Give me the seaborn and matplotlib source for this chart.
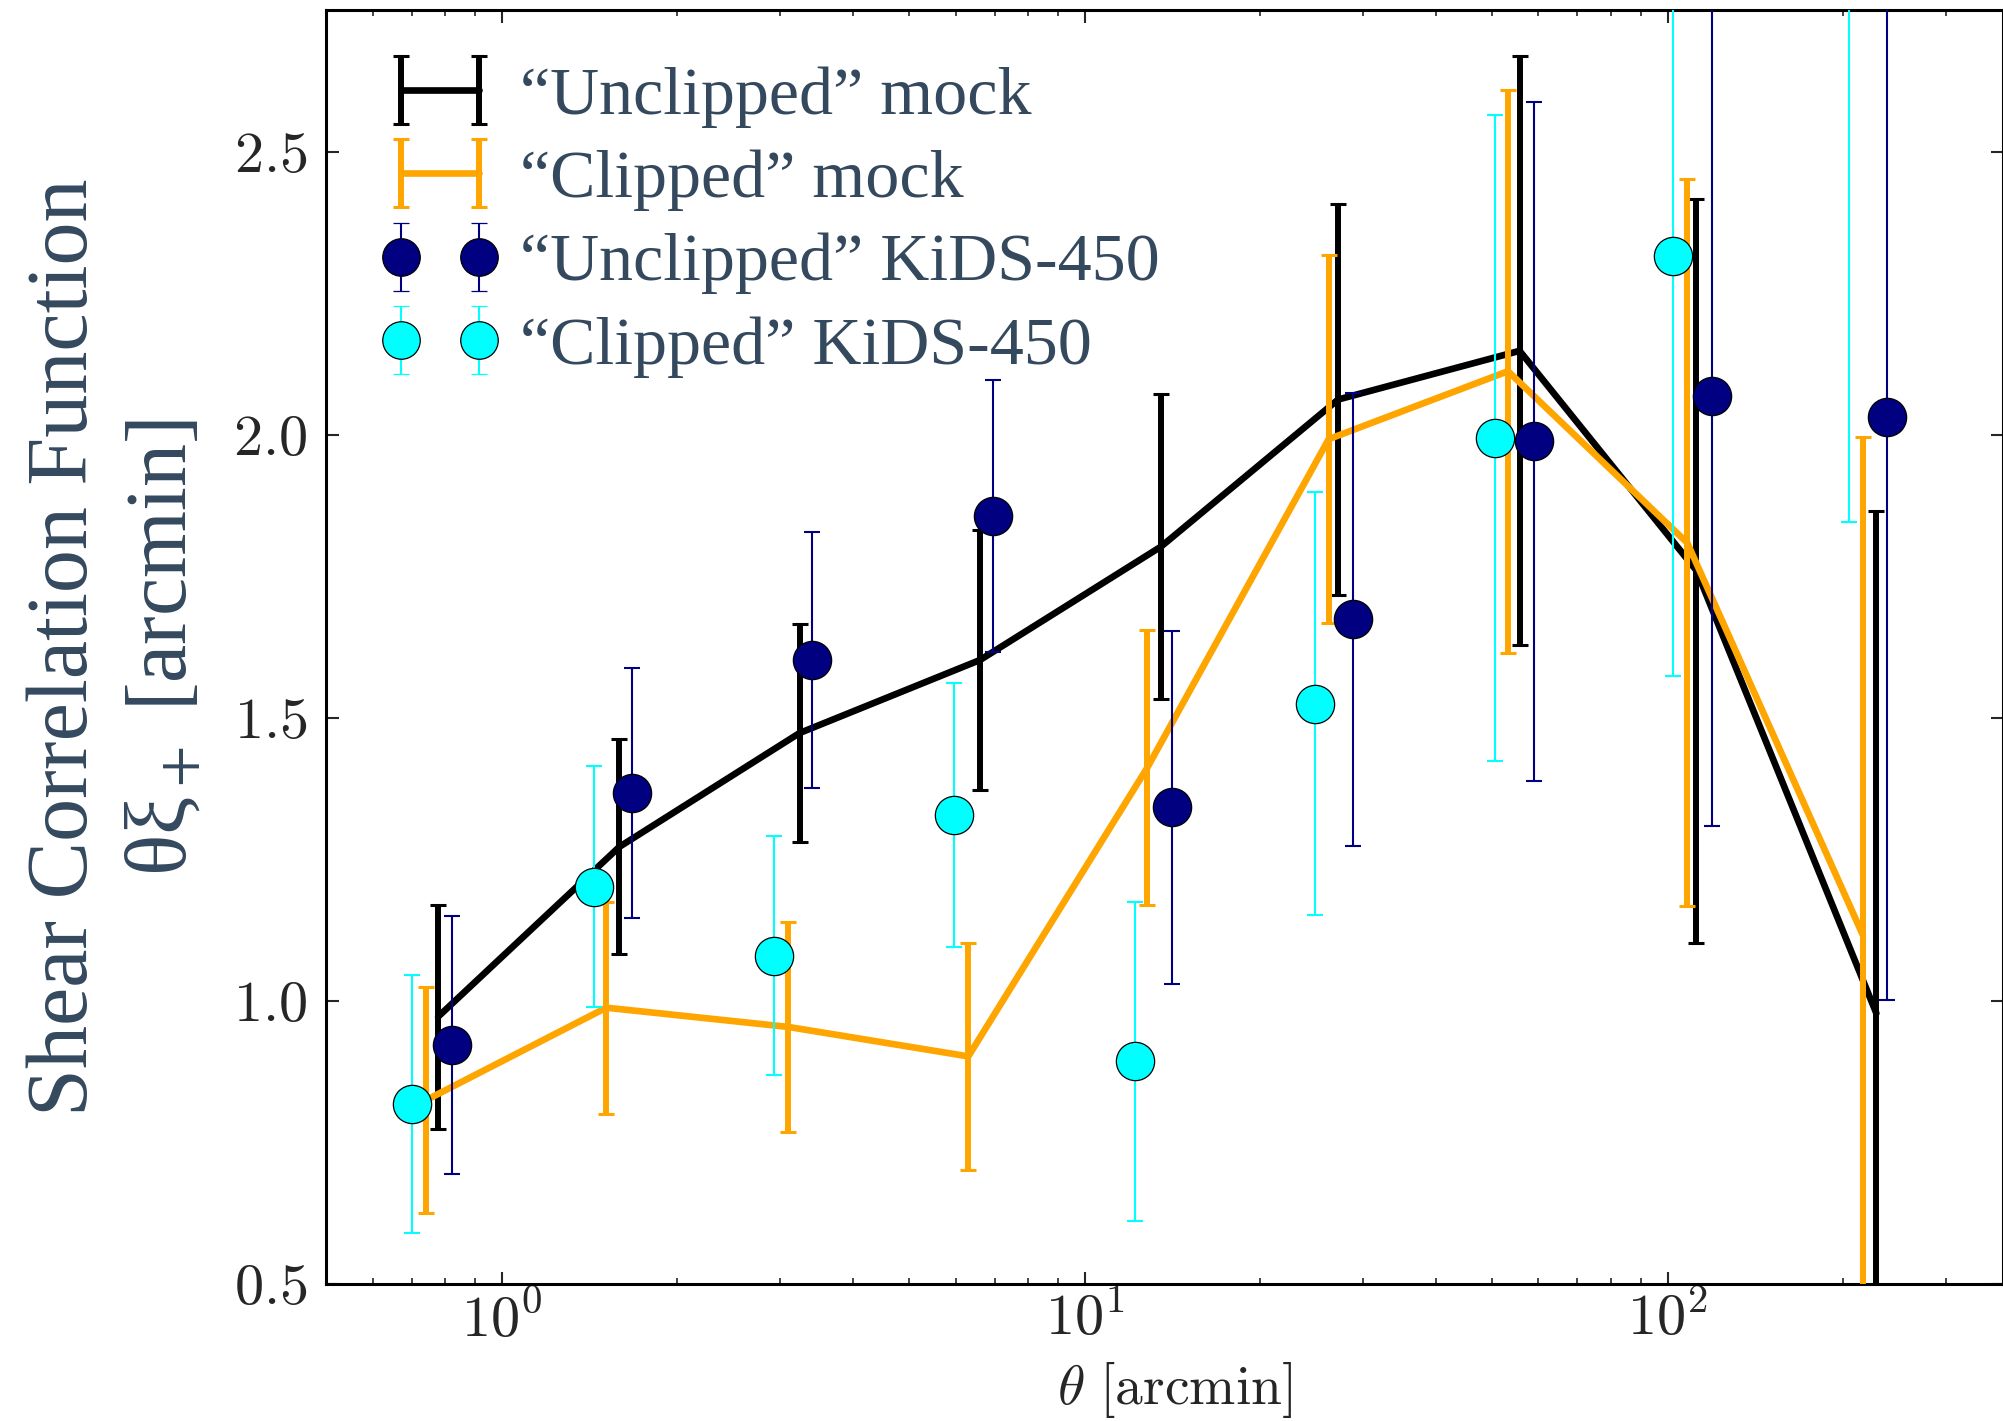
import numpy as np
import matplotlib
matplotlib.use('Agg')
import matplotlib.pyplot as plt
import seaborn as sns

# "Unclipped" mock (black line with error bars)
mock_u_theta = [0.777, 1.59, 3.24, 6.61, 13.5, 27.2, 55.7, 112.0, 228.0]
mock_u_xi = [0.972, 1.272, 1.473, 1.602, 1.802, 2.062, 2.148, 1.76, 0.978]
mock_u_err = [0.198, 0.19, 0.193, 0.23, 0.269, 0.346, 0.52, 0.657, 0.888]

# "Clipped" mock (orange line with error bars)
mock_c_theta = [0.742, 1.51, 3.10, 6.31, 12.8, 26.2, 53.2, 108.0, 216.0]
mock_c_xi = [0.825, 0.988, 0.954, 0.902, 1.412, 1.992, 2.112, 1.809, 1.117]
mock_c_err = [0.199, 0.187, 0.186, 0.20, 0.243, 0.325, 0.497, 0.642, 0.879]

# "Unclipped" KiDS-450 (navy points)
kids_u_theta = [0.821, 1.674, 3.41, 6.95, 14.1, 28.9, 58.9, 119.0, 238.0]
kids_u_xi = [0.922, 1.367, 1.602, 1.857, 1.342, 1.674, 1.988, 2.069, 2.031]
kids_u_err = [0.228, 0.221, 0.226, 0.24, 0.312, 0.40, 0.60, 0.76, 1.03]

# "Clipped" KiDS-450 (cyan points)
kids_c_theta = [0.702, 1.44, 2.93, 5.97, 12.2, 24.8, 50.6, 102.0, 205.0]
kids_c_xi = [0.818, 1.202, 1.08, 1.328, 0.893, 1.525, 1.994, 2.315, 3.0]
kids_c_err = [0.228, 0.212, 0.211, 0.233, 0.281, 0.373, 0.57, 0.741, 1.155]

labels = ['\u201cUnclipped\u201d mock', '\u201cClipped\u201d mock',
          '\u201cUnclipped\u201d KiDS-450', '\u201cClipped\u201d KiDS-450']

sns.set_style('ticks')
plt.rcParams['font.family'] = ['Liberation Serif', 'DejaVu Serif']
plt.rcParams['mathtext.fontset'] = 'cm'

text_col = '#34495e'
mock_kw = dict(elinewidth=4.3, capsize=6, capthick=2.2)
data_kw = dict(elinewidth=1.5, capsize=6, capthick=1.5)

fig = plt.figure(figsize=(20.03, 14.21), dpi=100)
ax = fig.add_axes([0.163, 0.0964, 0.837, 0.8966])

# mock lines + error bars
sns.lineplot(x=mock_u_theta, y=mock_u_xi, color='black', lw=4.8, ax=ax, zorder=3)
ax.errorbar(mock_u_theta, mock_u_xi, yerr=mock_u_err, fmt='none', ecolor='black',
            zorder=3, **mock_kw)
sns.lineplot(x=mock_c_theta, y=mock_c_xi, color='orange', lw=4.8, ax=ax, zorder=3)
ax.errorbar(mock_c_theta, mock_c_xi, yerr=mock_c_err, fmt='none', ecolor='orange',
            zorder=3, **mock_kw)

# KiDS-450 data points
ax.errorbar(kids_u_theta, kids_u_xi, yerr=kids_u_err, fmt='none', ecolor='navy',
            zorder=4, **data_kw)
sns.scatterplot(x=kids_u_theta, y=kids_u_xi, color='navy', s=760, edgecolor='black',
                linewidth=0.9, ax=ax, zorder=5)
ax.errorbar(kids_c_theta, kids_c_xi, yerr=kids_c_err, fmt='none', ecolor='cyan',
            zorder=4, **data_kw)
sns.scatterplot(x=kids_c_theta, y=kids_c_xi, color='cyan', s=760, edgecolor='black',
                linewidth=0.9, ax=ax, zorder=5)

# legend proxies (errorbar containers, nothing drawn in the axes)
nan = [np.nan]
h1 = ax.errorbar(nan, nan, yerr=nan, fmt='-', color='black', lw=4.8, **mock_kw)
h2 = ax.errorbar(nan, nan, yerr=nan, fmt='-', color='orange', lw=4.8, **mock_kw)
h3 = ax.errorbar(nan, nan, yerr=nan, fmt='o', color='navy', ms=27, mec='black',
                 mew=0.9, **data_kw)
h4 = ax.errorbar(nan, nan, yerr=nan, fmt='o', color='cyan', ms=27, mec='black',
                 mew=0.9, **data_kw)
leg = ax.legend([h1, h2, h3, h4], labels, loc='upper left', bbox_to_anchor=(0.032, 0.956),
                frameon=False, numpoints=2, fontsize=49, handlelength=1.75,
                handletextpad=0.3, labelspacing=0.32, borderpad=0, borderaxespad=0)
for t in leg.get_texts():
    t.set_color(text_col)

ax.set_xscale('log')
ax.set_xlim(0.5, 376)
ax.set_ylim(0.5, 2.75)
ax.set_yticks([0.5, 1.0, 1.5, 2.0, 2.5])
ax.set_yticklabels([r'$%.1f$' % v for v in [0.5, 1.0, 1.5, 2.0, 2.5]])
ax.set_xticks([1, 10, 100])
ax.set_xticklabels([r'$10^{0}$', r'$10^{1}$', r'$10^{2}$'])

ax.tick_params(which='both', direction='in', top=True, right=True, labelsize=42)
ax.tick_params(which='major', length=9, width=1.5)
ax.tick_params(which='minor', length=4.5, width=1.2)
ax.tick_params(axis='y', pad=14)
ax.tick_params(axis='x', pad=6)
for s in ax.spines.values():
    s.set_linewidth(2.2)
    s.set_color('black')

ax.set_xlabel(r'$\theta\ [\mathrm{arcmin}]$', fontsize=40)
ax.xaxis.set_label_coords(0.506, -0.06)
ax.set_ylabel('Shear Correlation Function\n\u03b8\u03be$_+$ [arcmin]', fontsize=62,
              color=text_col, math_fontfamily='stix', linespacing=1.3)
ax.yaxis.set_label_coords(-0.073, 0.5)

fig.savefig('out.png', dpi=100)
